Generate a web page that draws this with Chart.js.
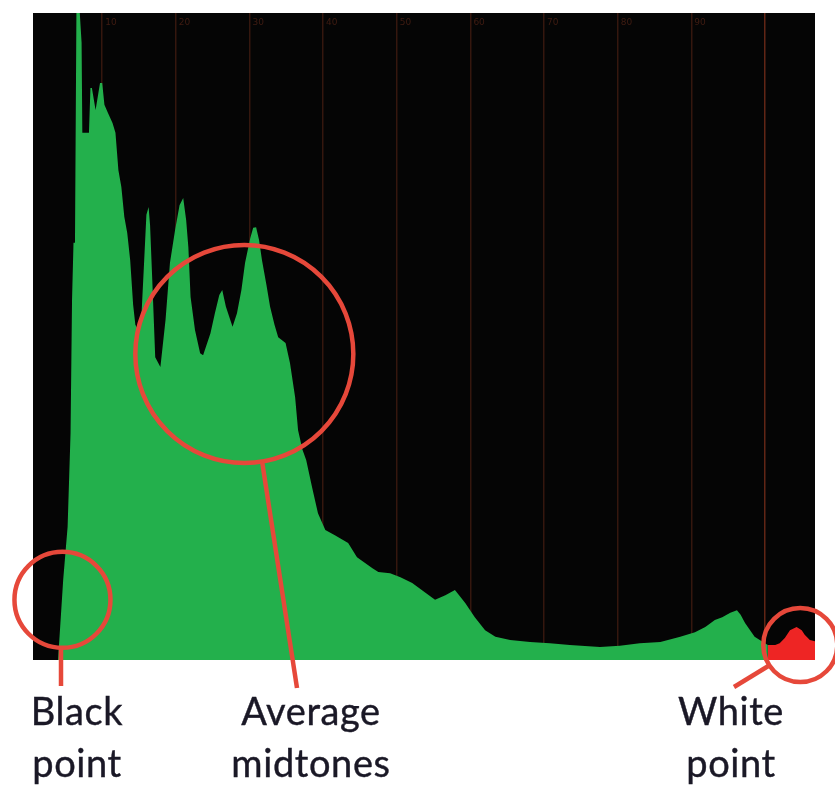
<!DOCTYPE html>
<html>
<head>
<meta charset="utf-8">
<script src="https://cdn.jsdelivr.net/npm/chart.js@4.4.1/dist/chart.umd.min.js"></script>
<style>
  body { margin: 0; background: #fff; }
  #wrap { position: relative; width: 835px; height: 785px; }
  .lbl {
    position: absolute;
    font-family: Lato, 'Open Sans', sans-serif;
    font-size: 38px;
    line-height: 52px;
    letter-spacing: 0.6px;
    color: #1a1826;
    -webkit-text-stroke: 0.4px #1a1826;
    text-align: center;
    transform: translateX(-50%);
    white-space: nowrap;
  }
</style>
</head>
<body>
<div id="wrap">
  <canvas id="histo" width="835" height="785"></canvas>
  <div class="lbl" style="left:77px; top:684px;">Black<br>point</div>
  <div class="lbl" style="left:311px; top:684px;">Average<br>midtones</div>
  <div class="lbl" style="left:731px; top:684px;">White<br>point</div>
</div>
<script>
// tonal levels (x) and pixel counts (y, % of tallest bin)
const greenLevels = [4.0, 4.7, 5.3, 5.7, 5.9, 6.1, 6.3, 6.5, 6.9, 7.2, 7.3, 8.2, 8.4, 8.6, 9.1, 9.7, 10.0, 10.3, 10.8, 11.4,
  11.8, 12.2, 12.6, 13.0, 13.4, 13.8, 14.2, 14.5, 14.9, 15.3, 15.7, 16.0, 16.3, 16.5, 16.8, 17.2, 17.9, 18.6, 19.2, 19.9,
  20.5, 21.0, 21.4, 21.7, 22.0, 22.6, 23.3, 23.7, 24.7, 25.3, 25.9, 26.3, 26.8, 27.7, 28.3, 28.9, 29.4, 30.1, 30.5, 30.9,
  31.3, 31.7, 32.3, 32.8, 33.4, 33.9, 34.9, 35.5, 36.2, 36.6, 37.2, 37.7, 38.5, 39.3, 40.3, 41.6, 43.4, 44.6, 45.7, 46.7,
  47.5, 49.1, 50.5, 52.1, 53.9, 55.2, 56.6, 57.9, 59.3, 60.6, 62.0, 63.4, 65.4, 68.1, 70.8, 73.5, 77.6, 80.3, 83.0, 85.8,
  88.5, 90.5, 91.9, 93.2, 94.2, 95.3, 96.2, 96.7, 97.3, 98.6, 100.0, 100.4];
const greenCounts = [0, 12.4, 20.6, 35.1, 55.6, 64.5, 64.5, 101, 101, 95.4, 81.5, 81.5, 88.4, 88.4, 85.0, 89.2, 89.2, 85.8, 84.5, 83.0,
  81.5, 75.7, 73.1, 68.5, 66.0, 61.8, 54.9, 51.8, 51.0, 52.6, 61.8, 68.8, 70.0, 67.2, 58.7, 46.8, 45.3, 52.6, 61.4, 66.5,
  70.3, 71.4, 68.0, 63.8, 56.1, 51.0, 47.4, 47.1, 50.5, 53.6, 56.4, 57.2, 54.6, 51.5, 53.6, 57.2, 61.4, 65.2, 66.8, 66.9,
  64.9, 61.8, 58.0, 54.6, 51.8, 49.9, 49.0, 45.9, 40.6, 35.5, 32.5, 30.9, 26.7, 22.7, 20.1, 19.3, 18.1, 15.9, 15.0, 14.2,
  13.6, 13.4, 12.8, 11.9, 10.4, 9.3, 10.0, 10.8, 8.8, 6.6, 4.6, 3.6, 3.1, 2.8, 2.6, 2.3, 2.0, 2.2, 2.6, 2.8,
  3.6, 4.3, 5.1, 6.2, 6.6, 7.3, 7.7, 7.0, 5.7, 3.6, 2.6, 2.3];

// clipped highlights shown in red
const redLevels = [100.4, 101.4, 102.0, 102.7, 103.4, 104.3, 105.0, 105.4, 106.1, 106.8];
const redCounts = [2.3, 2.3, 2.6, 3.4, 4.6, 5.1, 4.6, 3.9, 3.1, 2.9];

const gridTicks = [10, 20, 30, 40, 50, 60, 70, 80, 90, 100];
const gridLabels = ['10', '20', '30', '40', '50', '60', '70', '80', '90', ''];

const toPoints = (xs, ys) => xs.map((x, i) => ({ x: x, y: ys[i] }));

// black plot background
const bgPlugin = {
  id: 'bg',
  beforeDraw(chart) {
    const a = chart.chartArea;
    const ctx = chart.ctx;
    ctx.save();
    ctx.fillStyle = '#050505';
    ctx.fillRect(a.left, a.top, a.right - a.left, a.bottom - a.top);
    ctx.restore();
  }
};

// little level numbers at the top of each grid line
const topLabels = {
  id: 'topLabels',
  afterDraw(chart) {
    const xs = chart.scales.x;
    const ctx = chart.ctx;
    ctx.save();
    ctx.font = '9px "DejaVu Sans"';
    ctx.fillStyle = 'rgba(120,50,30,0.5)';
    ctx.textBaseline = 'middle';
    gridTicks.forEach((v, i) => {
      ctx.fillText(gridLabels[i], xs.getPixelForValue(v) + 3, chart.chartArea.top + 10);
    });
    ctx.restore();
  }
};

// red circles and leader lines
const callouts = {
  id: 'callouts',
  afterDatasetsDraw(chart) {
    const xs = chart.scales.x, ys = chart.scales.y;
    const ctx = chart.ctx;
    const marks = [
      { x: 4.6, y: 9.3, r: 48, from: [61, 648], to: [61, 686] },
      { x: 29.3, y: 47.3, r: 109, from: [262, 461], to: [297, 688] },
      { x: 104.8, y: 2.3, r: 37, from: [770, 665], to: [734, 687] }
    ];
    ctx.save();
    ctx.strokeStyle = '#e6483a';
    ctx.lineWidth = 4.5;
    marks.forEach(m => {
      ctx.beginPath();
      ctx.arc(xs.getPixelForValue(m.x), ys.getPixelForValue(m.y), m.r, 0, Math.PI * 2);
      ctx.stroke();
      ctx.beginPath();
      ctx.moveTo(m.from[0], m.from[1]);
      ctx.lineTo(m.to[0], m.to[1]);
      ctx.stroke();
    });
    ctx.restore();
  }
};

const ctx = document.getElementById('histo').getContext('2d');
new Chart(ctx, {
  type: 'line',
  data: {
    datasets: [
      {
        data: toPoints(greenLevels, greenCounts),
        backgroundColor: '#23b04c',
        borderWidth: 0,
        pointRadius: 0,
        fill: 'origin',
        tension: 0
      },
      {
        data: toPoints(redLevels, redCounts),
        backgroundColor: '#ee2524',
        borderWidth: 0,
        pointRadius: 0,
        fill: 'origin',
        tension: 0
      }
    ]
  },
  options: {
    responsive: false,
    animation: false,
    devicePixelRatio: 1,
    layout: { padding: { left: 33, top: 13, right: 20, bottom: 125 } },
    plugins: { legend: { display: false }, tooltip: { enabled: false } },
    scales: {
      x: {
        type: 'linear',
        min: 0.6,
        max: 106.8,
        afterBuildTicks: (axis) => { axis.ticks = gridTicks.map(v => ({ value: v })); },
        ticks: { display: false },
        border: { display: false },
        grid: {
          drawTicks: false,
          lineWidth: 1.5,
          color: (c) => c.tick && c.tick.value === 100 ? 'rgba(120,45,25,0.8)' : 'rgba(85,35,20,0.6)'
        }
      },
      y: {
        display: false,
        min: 0,
        max: 100
      }
    }
  },
  plugins: [bgPlugin, topLabels, callouts]
});
</script>
</body>
</html>
